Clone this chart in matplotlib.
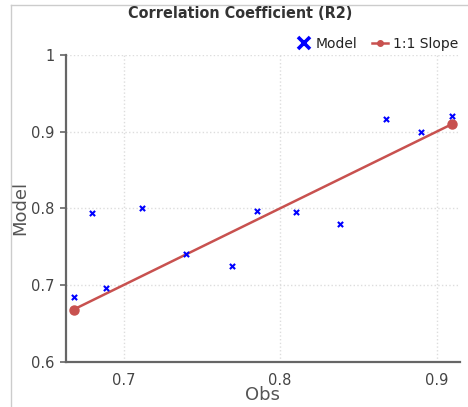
import matplotlib.pyplot as plt
from matplotlib.lines import Line2D

# Observed vs modelled values
obs = [0.668, 0.680, 0.689, 0.712, 0.740, 0.769, 0.785, 0.810, 0.838, 0.868, 0.890, 0.910]
model = [0.684, 0.794, 0.696, 0.801, 0.740, 0.725, 0.796, 0.795, 0.780, 0.917, 0.900, 0.920]

# 1:1 slope spans the range of the observations
slope_x = [min(obs), max(obs)]
slope_y = [min(obs), max(obs)]

x_ticks = [0.7, 0.8, 0.9]
y_ticks = [0.6, 0.7, 0.8, 0.9, 1.0]
y_labels = ['0.6', '0.7', '0.8', '0.9', '1']

text_col = '#444444'
axis_col = '#666666'

fig = plt.figure(figsize=(4.68, 4.07), dpi=100)
ax = fig.add_axes([0.1404, 0.1113, 0.8426, 0.7536])

ax.plot(slope_x, slope_y, color='#c8514f', lw=1.8, marker='o', ms=6.5, zorder=2)
ax.scatter(obs, model, marker='x', color='#0000ff', s=14, linewidths=1.5, zorder=3)

ax.set_xlim(0.663, 0.915)
ax.set_ylim(0.6, 1.0)
ax.set_xticks(x_ticks)
ax.set_yticks(y_ticks)
ax.set_yticklabels(y_labels)

ax.grid(True, color='#dddddd', linestyle=':', linewidth=1)
ax.set_axisbelow(True)

for side in ['top', 'right']:
    ax.spines[side].set_visible(False)
for side in ['left', 'bottom']:
    ax.spines[side].set_color(axis_col)
    ax.spines[side].set_linewidth(1.6)

ax.tick_params(axis='y', length=4, width=1.2, color=axis_col, labelcolor=text_col, labelsize=10.5, pad=4)
ax.tick_params(axis='x', length=0, labelcolor=text_col, labelsize=10.5, pad=8)

ax.set_xlabel('Obs', fontsize=13, color='#555555', va='center')
ax.set_ylabel('Model', fontsize=13, color='#555555', va='center')
ax.xaxis.set_label_coords(0.5, -0.11)
ax.yaxis.set_label_coords(-0.115, 0.5)

fig.text(0.513, 0.966, 'Correlation Coefficient (R2)', ha='center', va='center',
         fontsize=11.5, fontweight='heavy', color='#333333',
         family=['DejaVu Sans'], fontstretch='condensed')

handles = [
    Line2D([], [], color='#0000ff', marker='x', ls='none', ms=9, mew=2.6),
    Line2D([], [], color='#c8514f', marker='o', ms=4, lw=1.8),
]
fig.legend(handles, ['Model', '1:1 Slope'], loc='center right', bbox_to_anchor=(1.005, 0.893),
           ncol=2, frameon=False, fontsize=10, handlelength=1.2, handletextpad=0.3,
           columnspacing=1.0, labelcolor='#222222')

# light frame around the chart area
fig.add_artist(Line2D([0.023, 0.023], [0, 0.988], color='#cccccc', lw=1))
fig.add_artist(Line2D([0.023, 1.0], [0.988, 0.988], color='#cccccc', lw=1))

fig.savefig('out.png', dpi=100)
